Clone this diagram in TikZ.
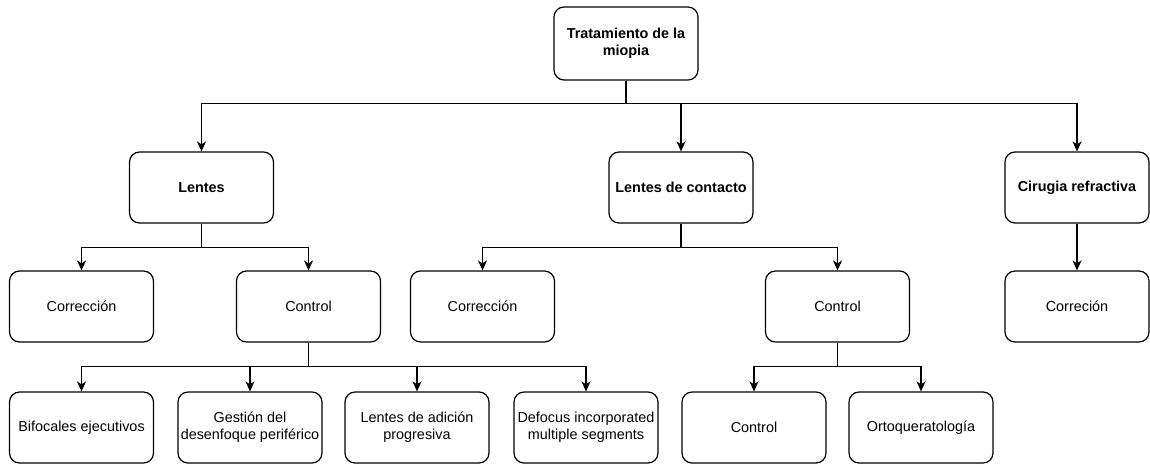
\documentclass[tikz,border=0pt]{standalone}
\usepackage{fontspec}
\setmainfont{Liberation Sans}
\usetikzlibrary{arrows.meta}
\begin{document}
\begin{tikzpicture}[x=1pt,y=-1pt,
  box/.style={draw=black, line width=1.2pt, rounded corners=10pt, fill=white,
    minimum width=144pt, minimum height=71pt, inner sep=0pt, align=center,
    font=\fontsize{14.4}{17}\selectfont},
  boldbox/.style={box, font=\fontsize{14.4}{17}\selectfont\bfseries},
  arr/.style={draw=black, line width=1.2pt, -{Stealth[length=10pt,width=9pt,inset=3pt]}},
  ln/.style={draw=black, line width=1.2pt}]
\fill[white] (0,0) rectangle (1150,464);
\useasboundingbox (0,0) rectangle (1150,464);
% nodes
\node[boldbox, minimum height=73pt] (top) at (626,43.5) {Tratamiento de la\\miopia};
\node[boldbox] (lentes) at (201.5,187.5) {Lentes};
\node[boldbox] (contacto) at (681,187.5) {Lentes de contacto};
\node[boldbox] (cirugia) at (1077,187.5) {Cirugia refractiva};
\node[box] (corr1) at (81.5,306.5) {Corrección};
\node[box] (ctrl1) at (308.5,306.5) {Control};
\node[box] (corr2) at (482.5,306.5) {Corrección};
\node[box] (ctrl2) at (837.5,306.5) {Control};
\node[box] (corr3) at (1077,306.5) {Correción};
\node[box] (bif) at (81.5,427.5) {Bifocales ejecutivos};
\node[box] (gest) at (250,427.5) {Gestión del\\desenfoque periférico};
\node[box] (adic) at (417,427.5) {Lentes de adición\\progresiva};
\node[box] (defoc) at (586,427.5) {Defocus incorporated\\multiple segments};
\node[box] (ctrl3) at (754,427.5) {Control};
\node[box] (orto) at (921,427.5) {Ortoqueratología};
% connectors
\draw[arr] (top.south) -- ++(0,23) -| (lentes.north);
\draw[arr] (top.south) -- ++(0,23) -| (contacto.north);
\draw[arr] (top.south) -- ++(0,23) -| (cirugia.north);
\draw[arr] (lentes.south) -- ++(0,24) -| (corr1.north);
\draw[arr] (lentes.south) -- ++(0,24) -| (ctrl1.north);
\draw[arr] (contacto.south) -- ++(0,24) -| (corr2.north);
\draw[arr] (contacto.south) -- ++(0,24) -| (ctrl2.north);
\draw[arr] (cirugia.south) -- (corr3.north);
\draw[arr] (ctrl1.south) -- ++(0,23.5) -| (bif.north);
\draw[arr] (ctrl1.south) -- ++(0,23.5) -| (gest.north);
\draw[arr] (ctrl1.south) -- ++(0,23.5) -| (adic.north);
\draw[arr] (ctrl1.south) -- ++(0,23.5) -| (defoc.north);
\draw[arr] (ctrl2.south) -- ++(0,23.5) -| (ctrl3.north);
\draw[arr] (ctrl2.south) -- ++(0,23.5) -| (orto.north);
\end{tikzpicture}
\end{document}
